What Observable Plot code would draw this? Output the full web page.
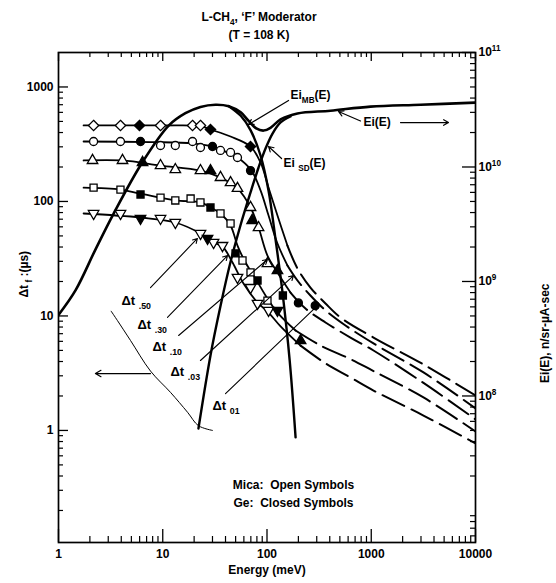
<!DOCTYPE html>
<html><head><meta charset="utf-8">
<script src="https://cdn.jsdelivr.net/npm/d3@7"></script>
<script src="https://cdn.jsdelivr.net/npm/@observablehq/plot@0.6"></script>
<style>html,body{margin:0;padding:0;background:#fff}svg{display:block}</style>
</head><body><div id="chart"></div>
<script>
// ---------- DATA ----------
// Ei(E) curves, n/sr-µA-sec (right axis)
const eiE   = [1, 1.46, 2.26, 3.37, 6.38, 11.4, 16.5, 23, 32, 43, 56, 66, 79, 93, 108, 135, 196, 406, 984, 2970, 10000];
const eiVal = [5.1e8, 8.4e8, 1.9e9, 3.9e9, 1.1e10, 2.3e10, 2.95e10, 3.35e10, 3.5e10, 3.4e10, 3.0e10, 2.55e10, 2.17e10, 2.08e10, 2.2e10, 2.6e10, 2.93e10, 3.1e10, 3.37e10, 3.5e10, 3.65e10];
const mbE   = [43, 56, 69.5, 86.7, 103.5, 121, 140, 165, 188];
const mbVal = [3.4e10, 2.8e10, 2.1e10, 1.26e10, 6.2e9, 2.3e9, 8.4e8, 2.05e8, 4.35e7];
const sdE   = [22, 28.7, 35.8, 44.6, 55.7, 69.5, 83, 96.8, 113, 135, 168];
const sdVal = [5.2e7, 2.26e8, 6.1e8, 1.47e9, 3.1e9, 6.0e9, 9.9e9, 1.45e10, 1.96e10, 2.45e10, 2.76e10];

// Δt_f curves, µs (left axis); energies in meV
const dt01E = [1.74, 9.52, 23, 28.7, 44.7, 69.5, 86.7, 103.5, 126, 157, 196, 261, 364, 507, 1051, 3170, 10000];
const dt01V = [461, 461, 455, 425, 369, 302, 219, 132, 75.4, 41.2, 26.0, 17.7, 12.85, 9.7, 6.48, 3.77, 2.02];
const dt03E = [1.74, 7.76, 19.3, 30, 37.4, 52.1, 71, 86.7, 103.5, 126, 157, 196, 261, 364, 566, 1051, 3170, 10000];
const dt03V = [334, 330, 322, 302, 279, 242, 186, 125, 75.4, 42.9, 27.6, 20.4, 15.1, 11.2, 8.26, 5.75, 3.21, 1.56];
const dt10E = [1.74, 4.11, 9.52, 23, 35.8, 52.1, 69.5, 83, 101, 126, 168, 234, 364, 632, 1051, 3170, 10000];
const dt10V = [228, 228, 206, 186, 162, 130, 88.6, 59.2, 33.7, 24, 16.0, 11.6, 8.77, 6.48, 4.99, 2.6, 1.25];
const dt30E = [1.74, 3.93, 6.12, 13.2, 23, 28.7, 35.8, 44.7, 52.1, 62.2, 77.6, 96.8, 126, 188, 326, 632, 1051, 3170, 10000];
const dt30V = [132, 127, 117, 102, 98, 88.6, 78.5, 61.7, 41.2, 29.3, 21.2, 15.1, 10.7, 7.46, 5.52, 4.2, 3.3, 1.94, 0.98];
const dt50E = [1.74, 6.12, 13.2, 23, 30.7, 37.4, 46.7, 59.5, 81.1, 103.5, 135, 210, 364, 632, 1051, 3170, 10000];
const dt50V = [78.5, 72.4, 65.5, 52.5, 43.8, 40.4, 29.3, 19.2, 13.1, 10.7, 8.1, 5.5, 3.85, 2.9, 2.23, 1.35, 0.77];
// energy where each curve turns from solid (measured) to dashed
const dashFrom = {dt01: 157, dt03: 157, dt10: 168, dt30: 188, dt50: 210};

// Measured points: Mica = open symbols, Ge = closed symbols
const dt01OpenE = [2.17, 3.93, 9.52, 19.3, 23.0];
const dt01OpenV = [461, 461, 461, 461, 461];
const dt01FillE = [5.98, 28.7, 69.5];
const dt01FillV = [461, 425, 302];
const dt03OpenE = [2.17, 3.93, 9.52, 13.2, 19.3, 23.0, 35.8, 44.7, 52.1];
const dt03OpenV = [334, 334, 308, 308, 334, 296, 279, 268, 242];
const dt03FillE = [6.12, 30, 69.5, 200, 290];
const dt03FillV = [334, 302, 186, 13, 12.3];
const dt10OpenE = [2.12, 4.11, 9.52, 13.2, 23, 35.8, 44.7, 52.1, 69.5, 83, 101];
const dt10OpenV = [228, 228, 206, 190, 186, 162, 146, 130, 88.6, 59.2, 28.7];
const dt10FillE = [6.4, 28.7, 72, 126, 210];
const dt10FillV = [219, 186, 68.2, 24.9, 6.1];
const dt30OpenE = [2.17, 3.93, 9.52, 13.2, 18.5, 23, 35.8, 44.7, 58.2, 69.5, 101];
const dt30OpenV = [132, 127, 108, 102, 106, 98, 78.5, 64.2, 30.5, 24, 13.6];
const dt30FillE = [6.12, 28.7, 49.9, 81.1, 142];
const dt30FillV = [115, 88.6, 35.2, 20.4, 15.1];
const dt50OpenE = [2.17, 3.93, 9.52, 13.2, 23, 30.7, 37.4, 52.1, 69.5, 81.1, 103.5];
const dt50OpenV = [78.5, 78.5, 71, 65.5, 52.5, 43.8, 41.2, 21.7, 17.7, 12.85, 11.2];
const dt50FillE = [6.12, 26.9, 126];
const dt50FillV = [71, 47.5, 11.2];

// Annotations (x in meV, y in left-axis µs units)
const dtLabels     = ["Δt _{.50}", "Δt _{.30}", "Δt _{.10}", "Δt _{.03}", "Δt _{01}"];
const dtLabelE     = [4.02, 5.72, 7.97, 11.87, 30];
const dtLabelV     = [13.6, 8.4, 5.4, 3.27, 1.65];
const dtArrowFromE = [7.63, 11.1, 14.2, 23, 40];
const dtArrowFromV = [17.7, 9.7, 6.75, 4.08, 2.1];
const dtArrowToE   = [21.5, 41.8, 101, 179.6, 305];
const dtArrowToV   = [47.5, 33.7, 31.1, 22.5, 12.3];
const braceE = [3.2, 3.68, 4.91, 7.63, 11.87, 17.3, 22, 30];
const braceV = [11.0, 9.1, 6.1, 3.3, 2.15, 1.44, 1.10, 1.0];
const leftArrow = {E1: 7.63, E2: 2.26, v: 3.14};
const eiLabels = ["Ei_{MB}(E)", "Ei _{SD}(E)", "Ei(E)"];
const eiLabelE = [168, 144, 843];
const eiLabelV = [842, 215, 489];
const eiArrowFromE = [161, 138, 789, 1908];
const eiArrowFromV = [762, 237, 505, 489];
const eiArrowToE   = [66.5, 103.5, 485, 5508];
const eiArrowToV   = [470, 302, 611, 489];
const noteLines = ["Mica:  Open Symbols", "Ge:  Closed Symbols"];
const noteE = [179.6, 179.6];
const noteV = [0.331, 0.230];

// Axes
const xMajor = [1, 10, 100, 1000, 10000];
const mant = [2, 3, 4, 5, 6, 7, 8, 9];
const xMinor = [1, 10, 100, 1000].flatMap(d => mant.map(m => m * d));
const yMajor = [1, 10, 100, 1000];
const yMinor = [0.1, 1, 10, 100].flatMap(d => mant.map(m => m * d)).filter(v => v > 0.105);
const rMajor = [1e8, 1e9, 1e10, 1e11];
const K = 5e7; // right-axis units per left-axis unit
const rMinor = [1e6, 1e7, 1e8, 1e9, 1e10].flatMap(d => mant.map(m => m * d)).filter(v => v / K > 0.105 && v / K < 2000);

const title1 = "L-CH_{4}, ‘F’ Moderator";
const title2 = "(T = 108 K)";
const xLabel = "Energy (meV)";
const yLabelLeft = "Δt_{ f} :(µs)";
const yLabelRight = "Ei(E), n/sr-µA-sec";

// ---------- BUILD ----------
const W = 556, H = 583, ML = 58, MR = 81, MT = 52, MB = 41;
const FW = W - ML - MR, FH = H - MT - MB;
const pts = (E, V) => E.map((e, i) => ({E: e, v: V[i]}));
const solid = (E, V, s) => pts(E, V).filter(d => d.E <= s);
const dashed = (E, V, s) => pts(E, V).filter(d => d.E >= s);

const SQ3 = Math.sqrt(3);
const triDown = {draw(ctx, size) { const y = -Math.sqrt(size / (SQ3 * 3)); ctx.moveTo(0, -y * 2); ctx.lineTo(-SQ3 * y, y); ctx.lineTo(SQ3 * y, y); ctx.closePath(); }};
const triUp = {draw(ctx, size) { const y = -Math.sqrt(size / (SQ3 * 3)); ctx.moveTo(0, y * 2); ctx.lineTo(-SQ3 * y, -y); ctx.lineTo(SQ3 * y, -y); ctx.closePath(); }};
const diam = {draw(ctx, size) { const d = Math.sqrt(size / 2); ctx.moveTo(0, -d); ctx.lineTo(d, 0); ctx.lineTo(0, d); ctx.lineTo(-d, 0); ctx.closePath(); }};
const sq = {draw(ctx, size) { const h = Math.sqrt(size) / 2; ctx.rect(-h, -h, 2 * h, 2 * h); }};
const circ = {draw(ctx, size) { const r = Math.sqrt(size / Math.PI); ctx.moveTo(r, 0); ctx.arc(0, 0, r, 0, 2 * Math.PI); }};

const series = [
  {key: "dt01", E: dt01E, V: dt01V, sym: diam, r: 4.1, oE: dt01OpenE, oV: dt01OpenV, fE: dt01FillE, fV: dt01FillV},
  {key: "dt03", E: dt03E, V: dt03V, sym: circ, r: 4.0, oE: dt03OpenE, oV: dt03OpenV, fE: dt03FillE, fV: dt03FillV},
  {key: "dt10", E: dt10E, V: dt10V, sym: triUp, r: 3.9, oE: dt10OpenE, oV: dt10OpenV, fE: dt10FillE, fV: dt10FillV},
  {key: "dt30", E: dt30E, V: dt30V, sym: sq, r: 4.0, oE: dt30OpenE, oV: dt30OpenV, fE: dt30FillE, fV: dt30FillV},
  {key: "dt50", E: dt50E, V: dt50V, sym: triDown, r: 3.9, oE: dt50OpenE, oV: dt50OpenV, fE: dt50FillE, fV: dt50FillV}
];

const lineMarks = series.flatMap(s => [
  Plot.line(solid(s.E, s.V, dashFrom[s.key]), {x: "E", y: "v", curve: "catmull-rom", stroke: "black", strokeWidth: 1.8, clip: true}),
  Plot.line(dashed(s.E, s.V, dashFrom[s.key]), {x: "E", y: "v", curve: "catmull-rom", stroke: "black", strokeWidth: 2, strokeDasharray: "24,8", clip: true})
]);
const dotMarks = series.flatMap(s => [
  Plot.dot(pts(s.oE, s.oV), {x: "E", y: "v", symbol: s.sym, r: s.r, fill: "white", stroke: "black", strokeWidth: 1.3}),
  Plot.dot(pts(s.fE, s.fV), {x: "E", y: "v", symbol: s.sym, r: s.r, fill: "black", stroke: "black", strokeWidth: 1.3})
]);

const eiY = d => d.v / K;
const idx = a => a.map((_, i) => i);

const chart = Plot.plot({
  width: W, height: H,
  marginLeft: ML, marginRight: MR, marginTop: MT, marginBottom: MB,
  x: {type: "log", domain: [1, 10000], label: null},
  y: {type: "log", domain: [0.105, 2000], label: null},
  style: {fontFamily: "'Liberation Sans', Arial, Helvetica, sans-serif", fontSize: "12px", fontWeight: "bold", background: "white", color: "black"},
  marks: [
    // inward ticks on all four sides
    Plot.tickX(xMinor, {x: d => d, insetTop: FH - 6, strokeWidth: 1.2}),
    Plot.tickX(xMajor, {x: d => d, insetTop: FH - 13, strokeWidth: 1.3}),
    Plot.tickX(xMinor, {x: d => d, insetBottom: FH - 5, strokeWidth: 1.2}),
    Plot.tickX(xMajor, {x: d => d, insetBottom: FH - 9, strokeWidth: 1.3}),
    Plot.tickY(yMinor, {y: d => d, insetRight: FW - 5, strokeWidth: 1.2}),
    Plot.tickY(yMajor, {y: d => d, insetRight: FW - 10, strokeWidth: 1.3}),
    Plot.tickY(rMinor, {y: d => d / K, insetLeft: FW - 5, strokeWidth: 1.2}),
    Plot.tickY(rMajor, {y: d => d / K, insetLeft: FW - 13, strokeWidth: 1.3}),
    Plot.frame({stroke: "black", strokeWidth: 1.7}),
    Plot.axisX({ticks: xMajor, tickSize: 0, tickPadding: 7, tickFormat: d => String(d), label: null, fontSize: 12}),
    Plot.axisY({anchor: "left", ticks: yMajor, tickSize: 0, tickPadding: 5, tickFormat: d => String(d), label: null, fontSize: 12}),
    Plot.axisY({anchor: "right", ticks: rMajor.map(v => v / K), tickSize: 0, tickPadding: 3, label: null, fontSize: 12,
      tickFormat: d => "10^{" + Math.round(Math.log10(d * K)) + "}"}),

    // Ei curves (right axis)
    Plot.line(pts(eiE, eiVal), {x: "E", y: eiY, curve: "catmull-rom", stroke: "black", strokeWidth: 2.6, clip: true}),
    Plot.line(pts(mbE, mbVal), {x: "E", y: eiY, curve: "catmull-rom", stroke: "black", strokeWidth: 2.4, clip: true}),
    Plot.line(pts(sdE, sdVal), {x: "E", y: eiY, curve: "catmull-rom", stroke: "black", strokeWidth: 2.4, clip: true}),

    ...lineMarks,
    ...dotMarks,

    // Δt annotations
    Plot.line(pts(braceE, braceV), {x: "E", y: "v", curve: "catmull-rom", stroke: "black", strokeWidth: 1}),
    Plot.arrow([leftArrow], {x1: "E1", y1: "v", x2: "E2", y2: "v", stroke: "black", strokeWidth: 1.2, headLength: 8}),
    Plot.arrow(idx(dtArrowFromE), {x1: i => dtArrowFromE[i], y1: i => dtArrowFromV[i], x2: i => dtArrowToE[i], y2: i => dtArrowToV[i], stroke: "black", strokeWidth: 1.1, headLength: 7}),
    Plot.text(idx(dtLabels), {x: i => dtLabelE[i], y: i => dtLabelV[i], text: i => dtLabels[i], textAnchor: "start", fontSize: 13}),

    // Ei annotations
    Plot.arrow(idx(eiArrowFromE), {x1: i => eiArrowFromE[i], y1: i => eiArrowFromV[i], x2: i => eiArrowToE[i], y2: i => eiArrowToV[i], stroke: "black", strokeWidth: 1.2, headLength: 7}),
    Plot.text(idx(eiLabels), {x: i => eiLabelE[i], y: i => eiLabelV[i], text: i => eiLabels[i], textAnchor: "start", fontSize: 12}),

    // note
    Plot.text(idx(noteLines), {x: i => noteE[i], y: i => noteV[i], text: i => noteLines[i], textAnchor: "middle", fontSize: 12}),

    // titles & axis labels
    Plot.text([title1], {frameAnchor: "top", dy: -40, dx: -8, fontSize: 12}),
    Plot.text([title2], {frameAnchor: "top", dy: -22, dx: -8, fontSize: 12}),
    Plot.text([xLabel], {frameAnchor: "bottom", dy: 31, fontSize: 12}),
    Plot.text([yLabelLeft], {frameAnchor: "left", dx: -34, rotate: -90, fontSize: 12}),
    Plot.text([yLabelRight], {frameAnchor: "right", dx: 70, dy: -14, rotate: -90, fontSize: 12})
  ]
});

document.getElementById("chart").appendChild(chart);

// sub/superscript markup: _{..} and ^{..}
(function richify(root) {
  const NS = "http://www.w3.org/2000/svg";
  const els = [...root.querySelectorAll("text, tspan")];
  els.forEach(el => {
    if (el.children.length) return;
    const s = el.textContent;
    if (!/[_^]\{/.test(s)) return;
    const fs = parseFloat(getComputedStyle(el).fontSize) || 12;
    el.textContent = "";
    let shift = 0;
    const add = (str, kind) => {
      const ts = document.createElementNS(NS, "tspan");
      ts.textContent = str;
      let target = 0;
      if (kind === "_") { ts.setAttribute("font-size", (fs * 0.68).toFixed(1)); target = fs * 0.32; }
      else if (kind === "^") { ts.setAttribute("font-size", (fs * 0.68).toFixed(1)); target = -fs * 0.42; }
      const d = target - shift;
      if (d) ts.setAttribute("dy", d.toFixed(1));
      shift = target;
      el.appendChild(ts);
    };
    const re = /([_^])\{([^}]*)\}/g;
    let last = 0, m;
    while ((m = re.exec(s))) {
      if (m.index > last) add(s.slice(last, m.index), null);
      add(m[2], m[1]);
      last = re.lastIndex;
    }
    if (last < s.length) add(s.slice(last), null);
  });
})(chart);
</script>
</body></html>
